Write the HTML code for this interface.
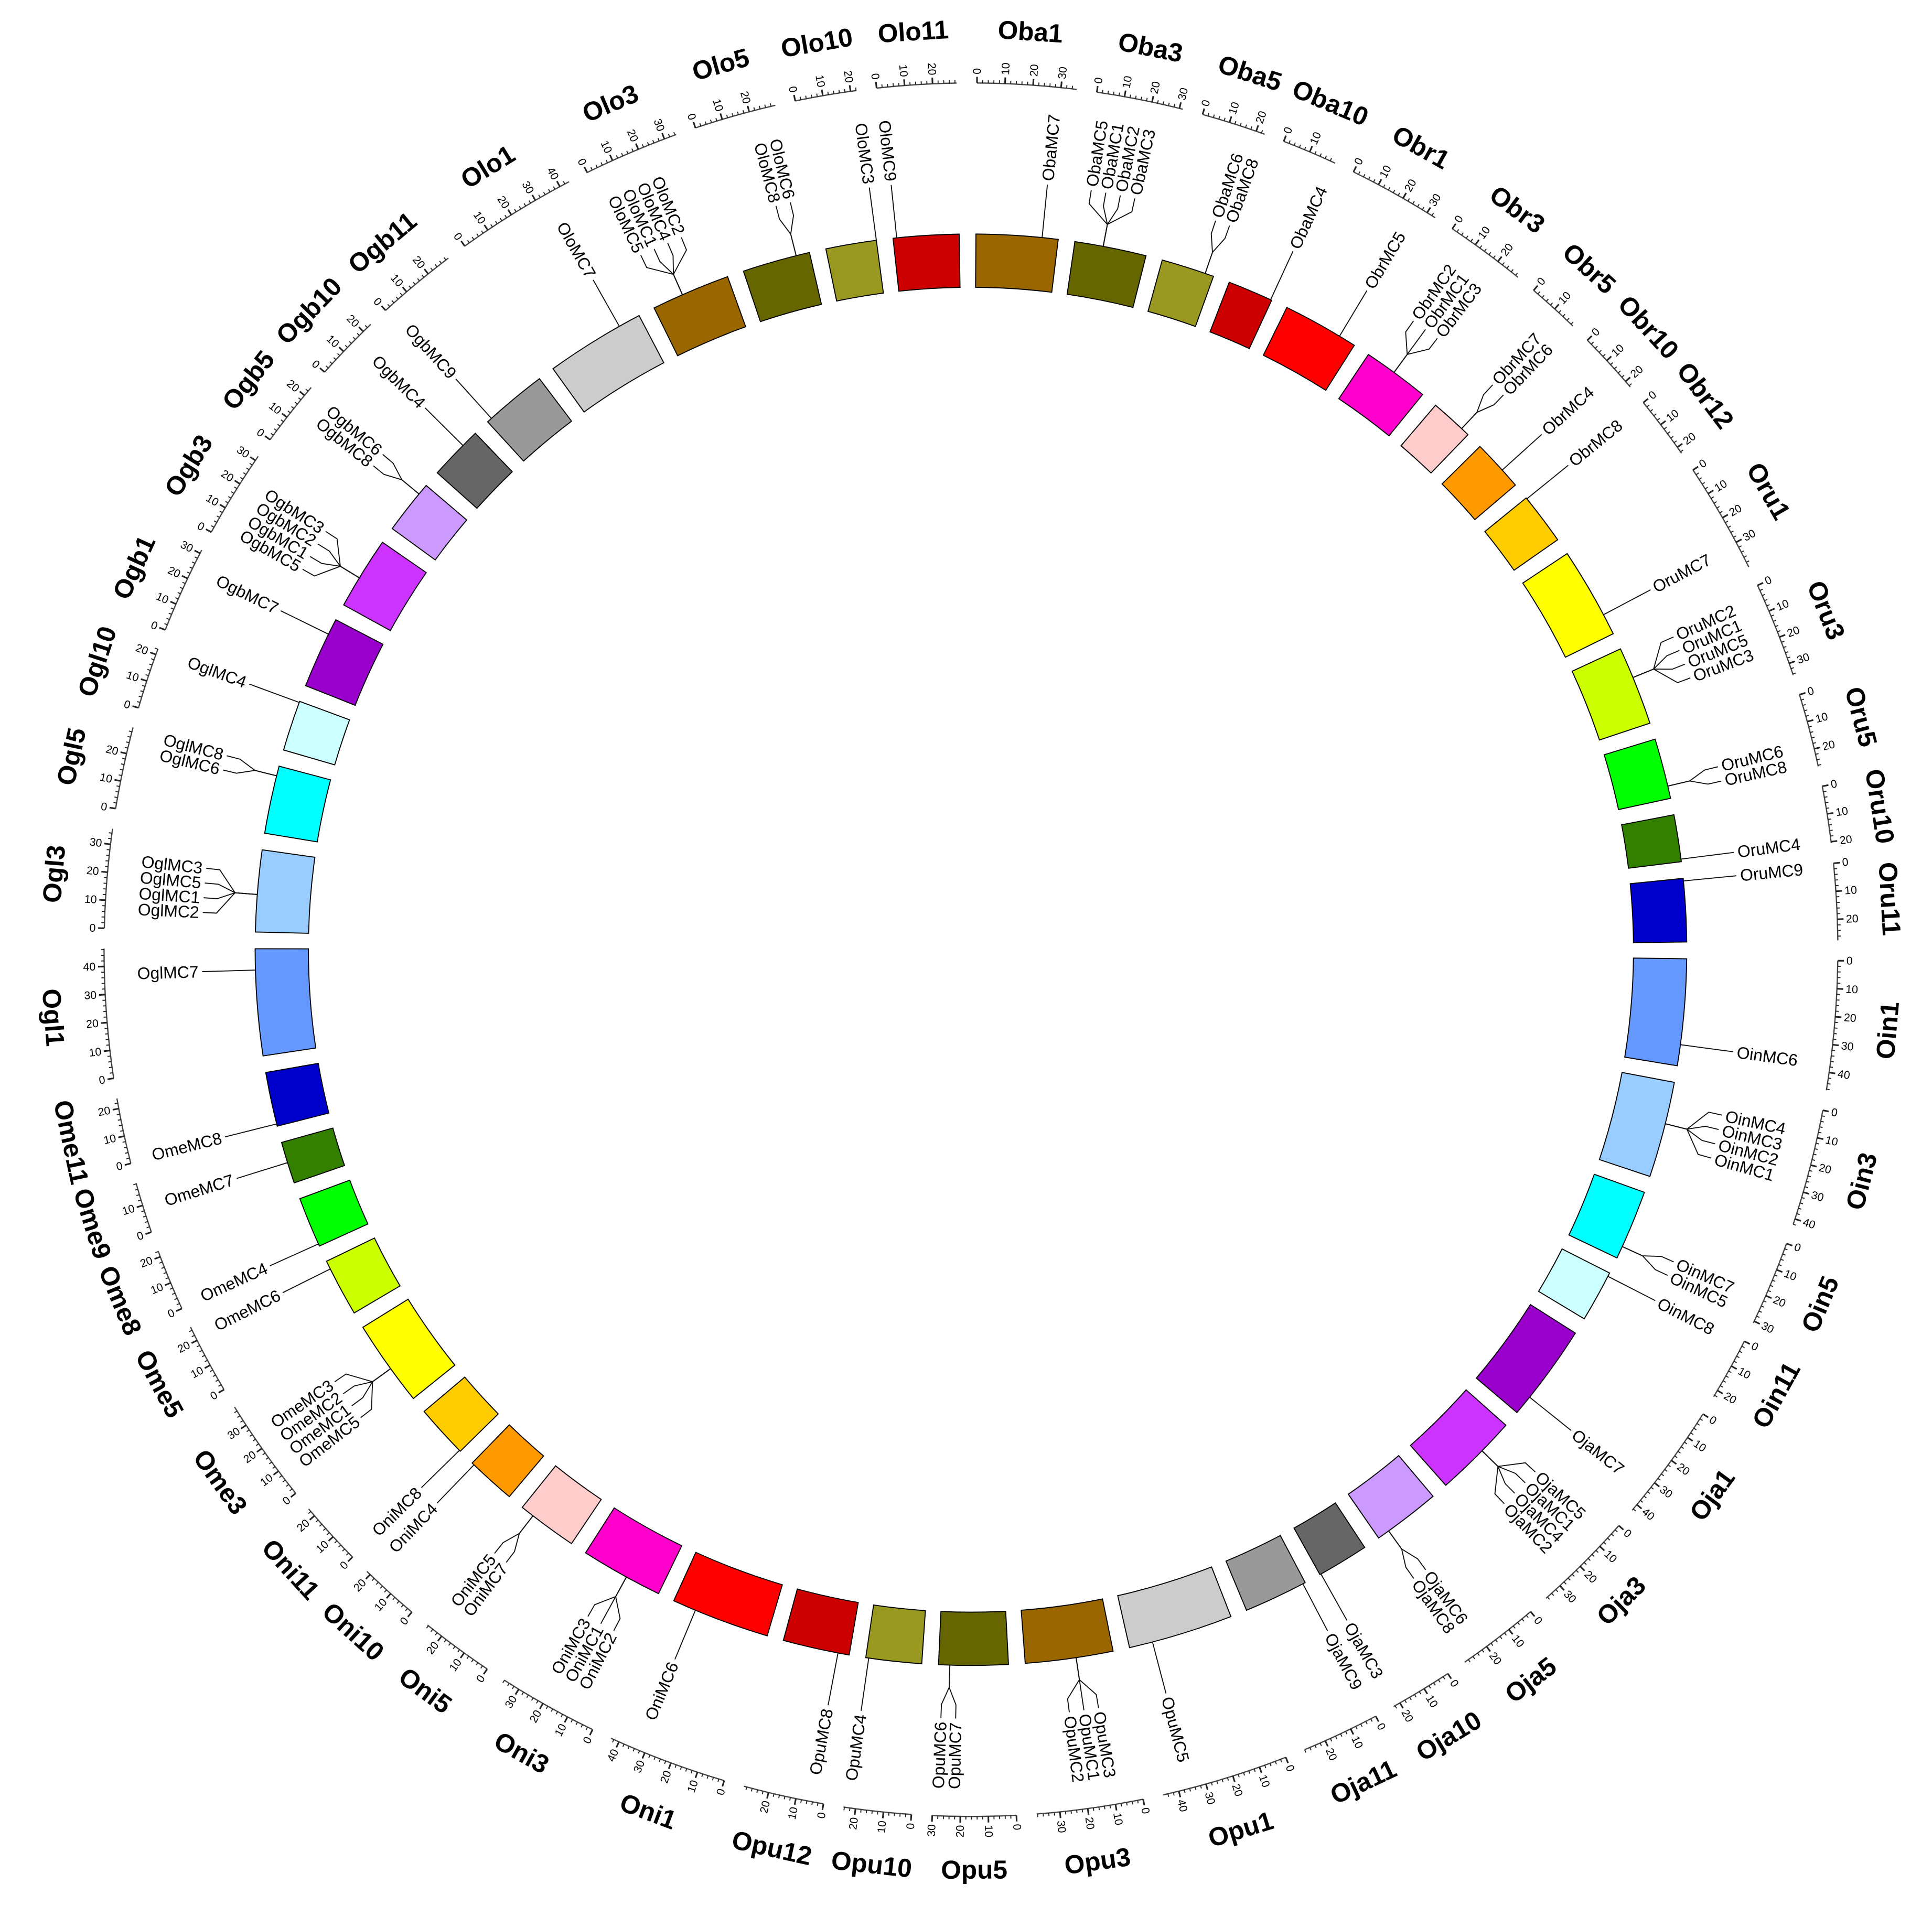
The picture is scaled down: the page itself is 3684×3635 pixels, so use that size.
<!DOCTYPE html>
<html><head><meta charset="utf-8"><title>Circos MC genes</title>
<style>
html,body{margin:0;padding:0;background:#fff;}
svg{display:block;}
text{font-family:"Liberation Sans","DejaVu Sans",sans-serif;fill:#000;}
</style></head>
<body>
<svg id="chart" xmlns="http://www.w3.org/2000/svg" width="3684" height="3635" viewBox="0 0 1560 1539.3">
<rect x="0" y="0" width="1560" height="1539.3" fill="#fff"/>
<g id="segs"></g>
<g id="axes"></g>
<g id="genes"></g>
<g id="names"></g>
</svg>
<script>
const chromNames = ["Oba1","Oba3","Oba5","Oba10","Obr1","Obr3","Obr5","Obr10","Obr12","Oru1","Oru3","Oru5","Oru10","Oru11","Oin1","Oin3","Oin5","Oin11","Oja1","Oja3","Oja5","Oja10","Oja11","Opu1","Opu3","Opu5","Opu10","Opu12","Oni1","Oni3","Oni5","Oni10","Oni11","Ome3","Ome5","Ome8","Ome9","Ome11","Ogl1","Ogl3","Ogl5","Ogl10","Ogb1","Ogb3","Ogb5","Ogb10","Ogb11","Olo1","Olo3","Olo5","Olo10","Olo11"];
const chromLengths = [35.6,31.3,23.2,19.9,33.4,29.1,18.9,22.6,22.6,39.9,34.5,26.4,20.5,27.5,46.4,42.0,30.7,22.6,42.6,36.7,29.6,22.6,28.0,45.8,38.3,30.2,24.3,29.1,43.1,36.1,26.4,21.6,23.2,37.7,25.3,22.1,18.3,23.7,46.4,35.6,29.6,22.1,31.3,31.8,23.7,23.7,29.1,43.7,34.5,29.6,22.1,28.6];
const geneNames = ["ObaMC7","ObaMC5","ObaMC1","ObaMC2","ObaMC3","ObaMC6","ObaMC8","ObaMC4",
"ObrMC5","ObrMC2","ObrMC1","ObrMC3","ObrMC7","ObrMC6","ObrMC4","ObrMC8",
"OruMC7","OruMC2","OruMC1","OruMC5","OruMC3","OruMC6","OruMC8","OruMC4","OruMC9",
"OinMC6","OinMC4","OinMC3","OinMC2","OinMC1","OinMC7","OinMC5","OinMC8",
"OjaMC7","OjaMC5","OjaMC1","OjaMC4","OjaMC2","OjaMC6","OjaMC8","OjaMC3","OjaMC9",
"OpuMC5","OpuMC3","OpuMC1","OpuMC2","OpuMC7","OpuMC6","OpuMC4","OpuMC8",
"OniMC6","OniMC2","OniMC1","OniMC3","OniMC7","OniMC5","OniMC4","OniMC8",
"OmeMC5","OmeMC1","OmeMC2","OmeMC3","OmeMC6","OmeMC4","OmeMC7","OmeMC8",
"OglMC7","OglMC2","OglMC1","OglMC5","OglMC3","OglMC6","OglMC8","OglMC4",
"OgbMC7","OgbMC5","OgbMC1","OgbMC2","OgbMC3","OgbMC8","OgbMC6","OgbMC4","OgbMC9",
"OloMC7","OloMC5","OloMC1","OloMC4","OloMC2","OloMC8","OloMC6","OloMC3","OloMC9"];
const geneChrom = ["Oba1","Oba3","Oba3","Oba3","Oba3","Oba5","Oba5","Oba10",
"Obr1","Obr3","Obr3","Obr3","Obr5","Obr5","Obr10","Obr12",
"Oru1","Oru3","Oru3","Oru3","Oru3","Oru5","Oru5","Oru10","Oru11",
"Oin1","Oin3","Oin3","Oin3","Oin3","Oin5","Oin5","Oin11",
"Oja1","Oja3","Oja3","Oja3","Oja3","Oja5","Oja5","Oja10","Oja11",
"Opu1","Opu3","Opu3","Opu3","Opu5","Opu5","Opu10","Opu12",
"Oni1","Oni3","Oni3","Oni3","Oni5","Oni5","Oni10","Oni11",
"Ome3","Ome3","Ome3","Ome3","Ome5","Ome8","Ome9","Ome11",
"Ogl1","Ogl3","Ogl3","Ogl3","Ogl3","Ogl5","Ogl5","Ogl10",
"Ogb1","Ogb3","Ogb3","Ogb3","Ogb3","Ogb5","Ogb5","Ogb10","Ogb11",
"Olo1","Olo3","Olo3","Olo3","Olo3","Olo5","Olo5","Olo10","Olo11"];
const genePos = [28.6,12.4,12.4,12.4,12.4,19.4,19.4,19.4,
25.9,13.5,13.5,13.5,15.1,15.1,14.0,0.5,
30.7,13.5,13.5,13.5,13.5,21.0,21.0,19.4,1.1,
37.2,18.3,18.3,18.3,18.3,25.3,25.3,1.6,
34.0,15.1,15.1,15.1,15.1,24.3,24.3,22.1,1.1,
35.6,16.2,16.2,16.2,25.3,25.3,23.0,4.9,
32.9,15.6,15.6,15.6,20.5,20.5,20.5,0.5,
16.2,16.2,16.2,16.2,21.6,1.0,9.2,1.0,
37.2,16.2,16.2,16.2,16.2,25.3,25.3,21.6,
24.3,13.5,13.5,13.5,13.5,18.9,18.9,16.2,2.2,
34.0,13.5,13.5,13.5,13.5,23.7,23.7,22.1,1.6];

const palette = ["#996600","#666600","#999922","#cc0000","#ff0000","#ff00cc","#ffcccc","#ff9900","#ffcc00","#ffff00","#ccff00","#00ff00","#337f00","#0000cc","#6699ff","#99ccff","#00ffff","#ccffff","#9900cc","#cc33ff","#cc99ff","#666666","#999999","#cccccc"];
const CX=784, CY=767, RIN=535, ROUT=578, RAX=700;
const K=0.1855, START=0.4;
const total = chromLengths.reduce((a,b)=>a+b,0);
const GAP = (360 - total*K)/chromLengths.length;
const NS="http://www.w3.org/2000/svg";
function pt(r,a){const t=a*Math.PI/180;return [CX+r*Math.sin(t), CY-r*Math.cos(t)];}
function mk(tag,attrs,parent){const e=document.createElementNS(NS,tag);for(const k in attrs)e.setAttribute(k,attrs[k]);parent.appendChild(e);return e;}
const starts=[];let acc=START;
chromLengths.forEach((L,i)=>{starts.push(acc);acc+=L*K+GAP;});
function ang(ci,mb){return starts[ci]+mb*K;}
function radialText(parent,r,a,txt,size,weight){
  const p=pt(r,a);let an=((a%360)+360)%360;
  const right = an<180;
  const rot = right? an-90 : an+90;
  const t=mk('text',{x:p[0].toFixed(2),y:p[1].toFixed(2),'font-size':size,'text-anchor':right?'start':'end','dominant-baseline':'central',transform:`rotate(${rot.toFixed(2)} ${p[0].toFixed(2)} ${p[1].toFixed(2)})`},parent);
  if(weight)t.setAttribute('font-weight',weight);
  t.textContent=txt;return t;
}
const segG=document.getElementById('segs'), axG=document.getElementById('axes'), geneG=document.getElementById('genes'), nameG=document.getElementById('names');
chromNames.forEach((nm,i)=>{
  const a0=starts[i], a1=ang(i,chromLengths[i]);
  const p1=pt(ROUT,a0),p2=pt(ROUT,a1),p3=pt(RIN,a1),p4=pt(RIN,a0);
  const d=`M${p1[0]},${p1[1]} A${ROUT},${ROUT} 0 0 1 ${p2[0]},${p2[1]} L${p3[0]},${p3[1]} A${RIN},${RIN} 0 0 0 ${p4[0]},${p4[1]} Z`;
  const seg=mk('path',{d:d,fill:palette[i%palette.length],stroke:'#000','stroke-width':0.8},segG);
  
  
  // axis
  const g=mk('g',{},axG);
  
  
  const q1=pt(RAX,a0),q2=pt(RAX,a1);
  mk('path',{d:`M${q1[0]},${q1[1]} A${RAX},${RAX} 0 0 1 ${q2[0]},${q2[1]}`,fill:'none',stroke:'#444','stroke-width':1},g);
  for(let m=0;m<=chromLengths[i];m+=2){
    const major=(m%10===0);const a=ang(i,m);
    const s=pt(RAX,a),e=pt(RAX+(major?5:2.5),a);
    mk('line',{x1:s[0],y1:s[1],x2:e[0],y2:e[1],stroke:'#222','stroke-width':major?1.3:0.8},g);
    if(major){const tl=radialText(g,RAX+7,a,String(m),9);
      
      }
  }
  // chromosome name
  const ac=(a0+a1)/2, pc=pt(743,ac);
  const rot=(ac<90||ac>270)?ac:ac-180;
  const t=mk('text',{x:pc[0],y:pc[1],'font-size':21,'font-weight':'bold','text-anchor':'middle','dominant-baseline':'central',transform:`rotate(${rot.toFixed(2)} ${pc[0]} ${pc[1]})`},nameG);
  
  
  t.textContent=nm;
});
// genes grouped into clusters
const clusters=[];
geneNames.forEach((g,i)=>{
  const last=clusters[clusters.length-1];
  if(last && last.chrom===geneChrom[i] && last.pos===genePos[i]) last.items.push(i);
  else clusters.push({chrom:geneChrom[i],pos:genePos[i],items:[i]});
});
const SP=1.1;
clusters.forEach(c=>{
  const ci=chromNames.indexOf(c.chrom);
  const ag=ang(ci,c.pos);const n=c.items.length;
  c.items.forEach((gi,j)=>{
    const al=ag+(j-(n-1)/2)*SP;
    const g=mk('g',{},geneG);
    
    
    const a=pt(ROUT,ag),b=pt(596,ag),c2=pt(610,al),d=pt(621,al);
    mk('path',{d:`M${a[0]},${a[1]} L${b[0]},${b[1]} L${c2[0]},${c2[1]} L${d[0]},${d[1]}`,fill:'none',stroke:'#111','stroke-width':0.8},g);
    radialText(g,624,al,geneNames[gi],13.5);
  });
});
</script>
</body></html>
